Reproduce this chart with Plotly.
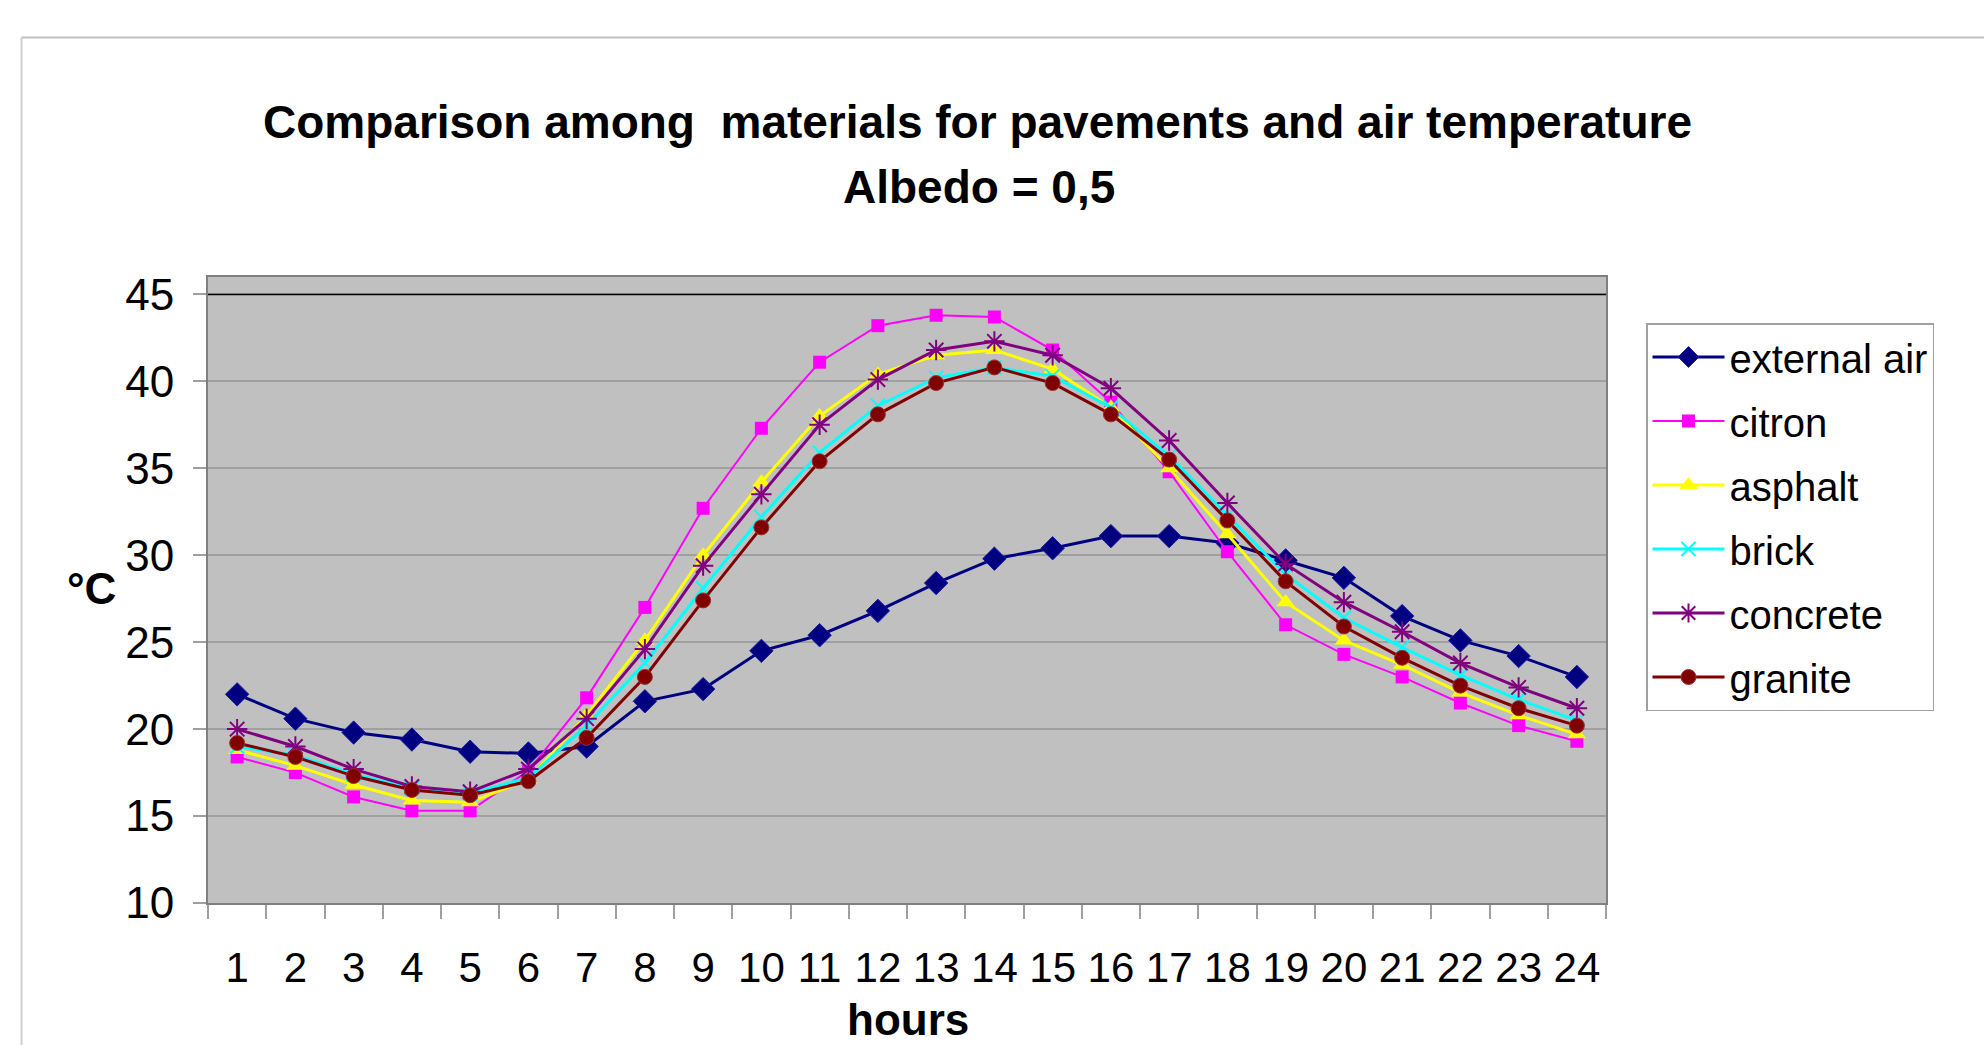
import plotly.graph_objects as go

# Hourly temperatures (°C) for the air and five pavement materials, albedo 0.5
hours = [str(h) for h in range(1, 25)]

external_air = [22.0, 20.6, 19.8, 19.4, 18.7, 18.6, 19.0, 21.6, 22.3, 24.5, 25.4, 26.8,
                28.4, 29.8, 30.4, 31.1, 31.1, 30.7, 29.7, 28.7, 26.5, 25.1, 24.2, 23.0]
citron = [18.4, 17.5, 16.1, 15.3, 15.3, 17.6, 21.8, 27.0, 32.7, 37.3, 41.1, 43.2,
          43.8, 43.7, 41.8, 38.8, 34.8, 30.2, 26.0, 24.3, 23.0, 21.5, 20.2, 19.3]
asphalt = [18.8, 17.9, 16.8, 15.9, 15.8, 17.1, 20.8, 25.1, 30.0, 34.2, 38.0, 40.4,
           41.5, 41.8, 40.7, 38.5, 35.0, 31.2, 27.3, 25.1, 23.7, 22.1, 20.8, 19.7]
brick = [19.0, 18.5, 17.4, 16.6, 16.3, 17.2, 20.2, 23.8, 28.1, 32.2, 35.9, 38.6,
         40.2, 40.8, 40.3, 38.5, 35.7, 32.3, 28.9, 26.4, 24.7, 23.1, 21.7, 20.5]
concrete = [20.0, 19.0, 17.7, 16.7, 16.4, 17.7, 20.6, 24.6, 29.4, 33.5, 37.5, 40.1,
            41.8, 42.3, 41.5, 39.6, 36.6, 33.0, 29.5, 27.3, 25.6, 23.8, 22.4, 21.2]
granite = [19.2, 18.4, 17.3, 16.5, 16.2, 17.0, 19.5, 23.0, 27.4, 31.6, 35.4, 38.1,
           39.9, 40.8, 39.9, 38.1, 35.5, 32.0, 28.5, 25.9, 24.1, 22.5, 21.2, 20.2]

FONT = "Arial, Liberation Sans, sans-serif"

series = [
    ("external air", external_air, "#000080", dict(symbol="diamond", size=18, color="#000080",
                                                   line=dict(color="#1a1aa0", width=1)), 3),
    ("citron", citron, "#FF00FF", dict(symbol="square", size=13, color="#FF00FF",
                                       line=dict(width=0)), 2),
    ("asphalt", asphalt, "#FFFF00", dict(symbol="triangle-up", size=16, color="#FFFF00",
                                         line=dict(width=0)), 3),
    ("brick", brick, "#00FFFF", dict(symbol="x-thin-open", size=14,
                                     line=dict(color="#00FFFF", width=2)), 3),
    ("concrete", concrete, "#800080", dict(symbol="asterisk-open", size=17,
                                           line=dict(color="#800080", width=2)), 3),
    ("granite", granite, "#800000", dict(symbol="circle", size=15, color="#800000",
                                         line=dict(color="#a03030", width=1)), 3),
]

fig = go.Figure()
for name, vals, col, marker, lw in series:
    fig.add_trace(go.Scatter(
        x=hours, y=vals, name=name, mode="lines+markers",
        line=dict(color=col, width=lw), marker=marker,
        legendgroup=name,
    ))

W, H = 1984, 1045
L, R, T, B = 208, 378, 277, 142
pw, ph = W - L - R, H - T - B


def px_x(x):
    return (x - L) / pw


def px_y(y):
    return (H - B - y) / ph


fig.update_layout(
    width=W, height=H,
    margin=dict(l=L, r=R, t=T, b=B, autoexpand=False),
    paper_bgcolor="white",
    plot_bgcolor="#C0C0C0",
    font=dict(family=FONT, color="black"),
    showlegend=True,
    legend=dict(
        x=px_x(1646), y=px_y(323), xanchor="left", yanchor="top",
        bgcolor="white", bordercolor="#A0A0A0", borderwidth=1.5,
        font=dict(size=40, family=FONT, color="black"),
        tracegroupgap=9, itemwidth=72,
    ),
    xaxis=dict(
        type="category", tickson="boundaries", range=[-0.5, 23.5],
        tickangle=0,
        showgrid=False, zeroline=False,
        showline=True, linecolor="#808080", linewidth=2, mirror=True,
        ticks="outside", ticklen=14, tickcolor="#A0A0A0", tickwidth=1.5,
        tickfont=dict(size=42, family=FONT, color="black"),
        ticklabelstandoff=27,
    ),
    yaxis=dict(
        range=[10, 46], tickmode="array", tickvals=[10, 15, 20, 25, 30, 35, 40, 45],
        showgrid=True, gridcolor="#A0A0A0", gridwidth=1.5, zeroline=False,
        showline=True, linecolor="#808080", linewidth=2, mirror=True,
        ticks="outside", ticklen=13, tickcolor="#A0A0A0", tickwidth=1.5,
        tickfont=dict(size=44, family=FONT, color="black"),
        ticklabelstandoff=10,
    ),
    shapes=[
        # black reference line at 45 °C
        dict(type="line", xref="paper", yref="y", x0=0, x1=1, y0=45, y1=45,
             line=dict(color="black", width=1.5), layer="above"),
        # chart-area frame (top and left edges)
        dict(type="line", xref="paper", yref="paper", x0=px_x(21.5), x1=px_x(2000),
             y0=px_y(37.5), y1=px_y(37.5), line=dict(color="#BFBFBF", width=2)),
        dict(type="line", xref="paper", yref="paper", x0=px_x(21.5), x1=px_x(21.5),
             y0=px_y(37.5), y1=px_y(1060), line=dict(color="#D0D0D0", width=2)),
    ],
    annotations=[
        dict(text="<b>Comparison among  materials for pavements and air temperature</b>",
             xref="paper", yref="paper", x=px_x(978), y=px_y(122),
             xanchor="center", yanchor="middle", showarrow=False,
             font=dict(size=46, family=FONT, color="black")),
        dict(text="<b>Albedo = 0,5</b>",
             xref="paper", yref="paper", x=px_x(979), y=px_y(187),
             xanchor="center", yanchor="middle", showarrow=False,
             font=dict(size=46, family=FONT, color="black")),
        dict(text="<b>°C</b>", xref="paper", yref="paper", x=px_x(92), y=px_y(588),
             xanchor="center", yanchor="middle", showarrow=False,
             font=dict(size=44, family=FONT, color="black")),
        dict(text="<b>hours</b>", xref="paper", yref="paper", x=px_x(908), y=px_y(1019),
             xanchor="center", yanchor="middle", showarrow=False,
             font=dict(size=44, family=FONT, color="black")),
    ],
)

fig.write_html("out.html")
